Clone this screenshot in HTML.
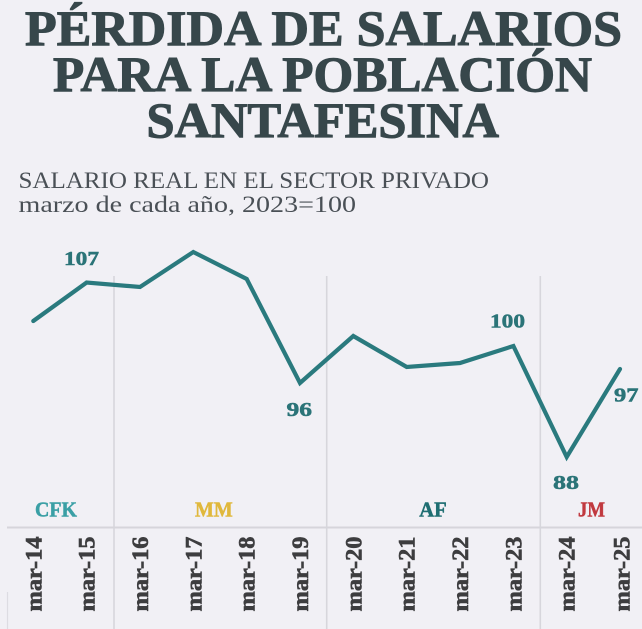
<!DOCTYPE html>
<html>
<head>
<meta charset="utf-8">
<style>
  html, body { margin: 0; padding: 0; background: #f1f0f5; }
  body { width: 642px; height: 629px; overflow: hidden; }
  svg { display: block; }
  svg text { font-family: "Liberation Serif", "Times New Roman", serif; }
  .b { font-weight: bold; }
</style>
</head>
<body>
<svg width="642" height="629" viewBox="0 0 642 629" xmlns="http://www.w3.org/2000/svg">
  <rect x="0" y="0" width="642" height="629" fill="#f1f0f5"/>

  <!-- Title -->
  <g class="b" font-size="50" fill="#37474b" stroke="#37474b" stroke-width="1.1">
    <text class="b" x="25" y="45" textLength="597" lengthAdjust="spacingAndGlyphs">PÉRDIDA DE SALARIOS</text>
    <text class="b" x="53" y="91" textLength="539" lengthAdjust="spacingAndGlyphs">PARA LA POBLACIÓN</text>
    <text class="b" x="146.5" y="137" textLength="352.5" lengthAdjust="spacingAndGlyphs">SANTAFESINA</text>
  </g>

  <!-- Subtitle -->
  <g font-size="23" fill="#4a5056">
    <text x="18.5" y="188" textLength="470.5" lengthAdjust="spacingAndGlyphs">SALARIO REAL EN EL SECTOR PRIVADO</text>
    <text x="18.5" y="212" textLength="337.5" lengthAdjust="spacingAndGlyphs">marzo de cada año, 2023=100</text>
  </g>

  <!-- Separators -->
  <g stroke="#d7d6dc" stroke-width="1.6">
    <line x1="114" y1="276" x2="114" y2="629"/>
    <line x1="326.7" y1="276" x2="326.7" y2="629"/>
    <line x1="540.3" y1="276" x2="540.3" y2="629"/>
  </g>
  <line x1="7" y1="527.5" x2="642" y2="527.5" stroke="#d6d5db" stroke-width="2"/>
  <line x1="7.5" y1="592" x2="7.5" y2="629" stroke="#dddce2" stroke-width="1.2"/>

  <!-- Series line -->
  <polyline fill="none" stroke="#2a7a7e" stroke-width="4.2" stroke-linejoin="miter" stroke-miterlimit="4" stroke-linecap="round"
    points="33.3,321 86.6,282.5 140,287 193.3,252 246.7,279 300,383 353.3,336 406.7,367 460,363 513.4,346 566.7,457 620,369"/>

  <!-- Value labels -->
  <g font-size="20" fill="#2b7478" stroke="#2b7478" stroke-width="0.5">
    <text class="b" x="64" y="265" textLength="35" lengthAdjust="spacingAndGlyphs">107</text>
    <text class="b" x="286.5" y="416" textLength="25.5" lengthAdjust="spacingAndGlyphs">96</text>
    <text class="b" x="490" y="327.5" textLength="35" lengthAdjust="spacingAndGlyphs">100</text>
    <text class="b" x="614" y="401.5" textLength="24.5" lengthAdjust="spacingAndGlyphs">97</text>
    <text class="b" x="553" y="489" textLength="26" lengthAdjust="spacingAndGlyphs">88</text>
  </g>

  <!-- Period labels -->
  <g font-size="21" stroke-width="0.5">
    <text class="b" x="35" y="516.7" textLength="42" lengthAdjust="spacingAndGlyphs" fill="#3a9fa5" stroke="#3a9fa5">CFK</text>
    <text class="b" x="195" y="516.7" textLength="37.7" lengthAdjust="spacingAndGlyphs" fill="#e0b83c" stroke="#e0b83c">MM</text>
    <text class="b" x="419.3" y="516.7" textLength="27.4" lengthAdjust="spacingAndGlyphs" fill="#1f6e72" stroke="#1f6e72">AF</text>
    <text class="b" x="578" y="516.7" textLength="27" lengthAdjust="spacingAndGlyphs" fill="#c1393f" stroke="#c1393f">JM</text>
  </g>

  <!-- Rotated x labels -->
  <g font-size="23" fill="#3d3d3f" stroke="#3d3d3f" stroke-width="0.6" text-anchor="middle">
    <text class="b" transform="translate(41.3,574) rotate(-90)" textLength="75" lengthAdjust="spacingAndGlyphs">mar-14</text>
    <text class="b" transform="translate(94.6,574) rotate(-90)" textLength="75" lengthAdjust="spacingAndGlyphs">mar-15</text>
    <text class="b" transform="translate(148,574) rotate(-90)" textLength="75" lengthAdjust="spacingAndGlyphs">mar-16</text>
    <text class="b" transform="translate(201.3,574) rotate(-90)" textLength="75" lengthAdjust="spacingAndGlyphs">mar-17</text>
    <text class="b" transform="translate(254.7,574) rotate(-90)" textLength="75" lengthAdjust="spacingAndGlyphs">mar-18</text>
    <text class="b" transform="translate(308,574) rotate(-90)" textLength="75" lengthAdjust="spacingAndGlyphs">mar-19</text>
    <text class="b" transform="translate(361.3,574) rotate(-90)" textLength="75" lengthAdjust="spacingAndGlyphs">mar-20</text>
    <text class="b" transform="translate(414.7,574) rotate(-90)" textLength="75" lengthAdjust="spacingAndGlyphs">mar-21</text>
    <text class="b" transform="translate(468,574) rotate(-90)" textLength="75" lengthAdjust="spacingAndGlyphs">mar-22</text>
    <text class="b" transform="translate(521.4,574) rotate(-90)" textLength="75" lengthAdjust="spacingAndGlyphs">mar-23</text>
    <text class="b" transform="translate(574.7,574) rotate(-90)" textLength="75" lengthAdjust="spacingAndGlyphs">mar-24</text>
    <text class="b" transform="translate(629.5,574) rotate(-90)" textLength="75" lengthAdjust="spacingAndGlyphs">mar-25</text>
  </g>
</svg>
</body>
</html>
